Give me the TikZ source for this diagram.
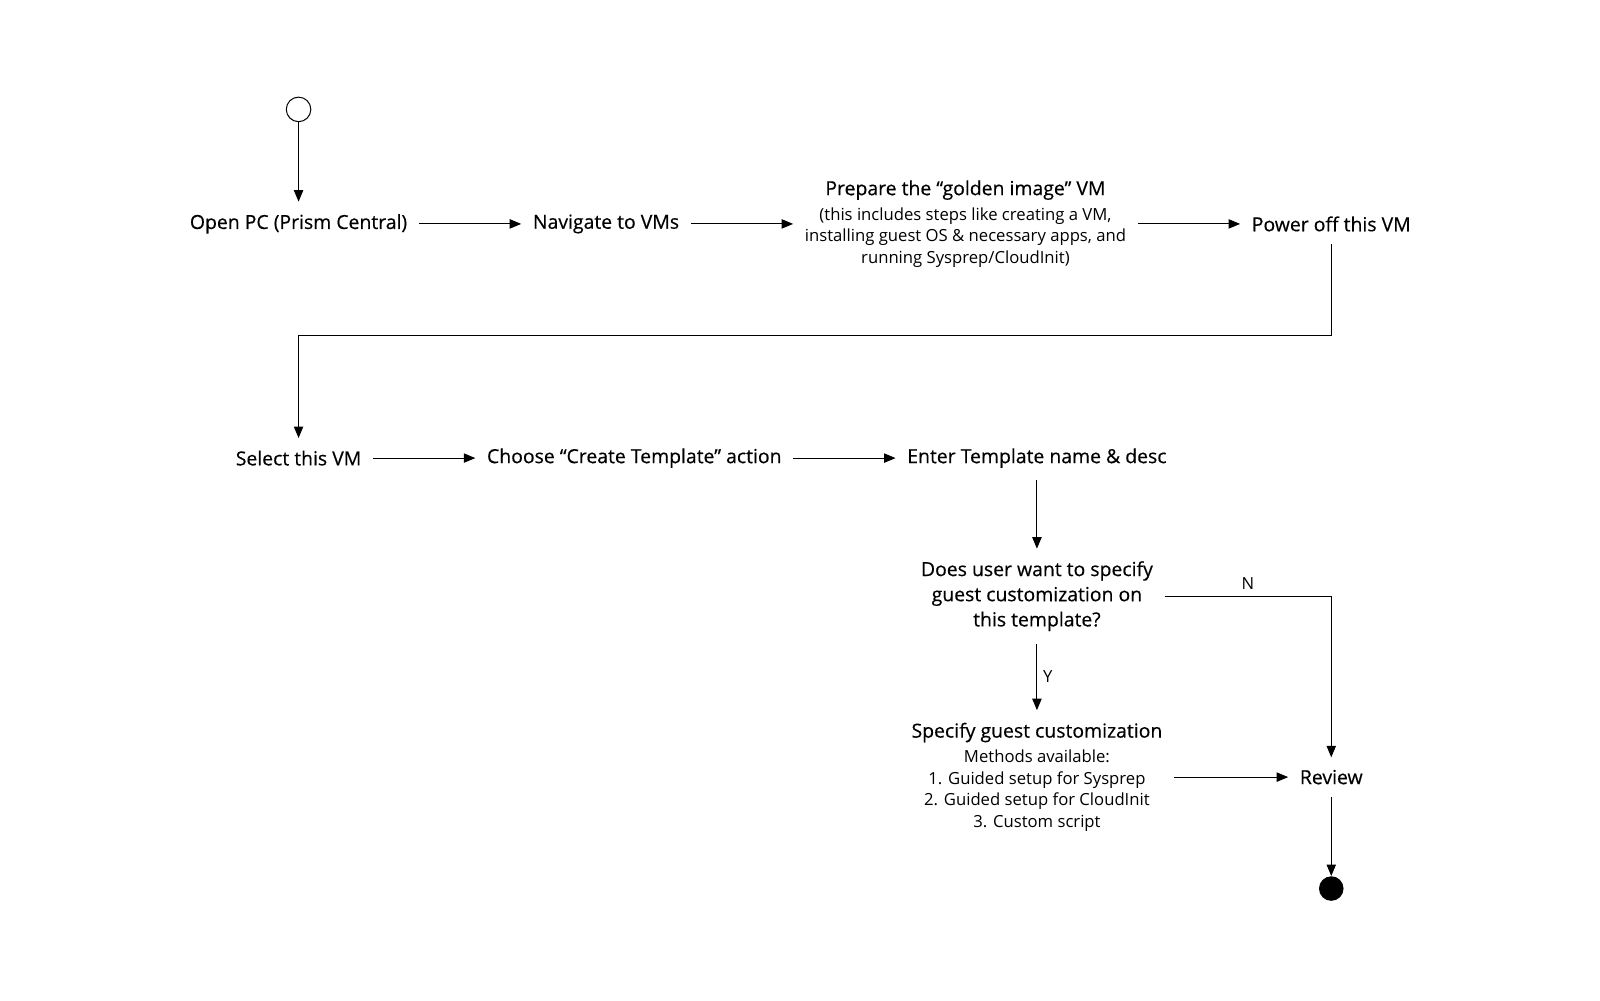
\documentclass[tikz,border=0pt]{standalone}
\usepackage{fontspec}
\setmainfont{Open Sans}
\newfontfamily\stepfont{Open Sans}[FakeBold=0.4]
\usetikzlibrary{arrows.meta, positioning}
\newcommand{\notefont}{\fontsize{11.6}{15}\selectfont}

\begin{document}
\begin{tikzpicture}[
          stepbox/.style={inner xsep=0.28cm, inner ysep=0.3cm, align=center, font=\stepfont\fontsize{13.5}{17.5}\selectfont},
          startdot/.style={circle, draw, line width=0.7pt, minimum size=0.6cm, inner sep=0pt},
          enddot/.style={circle, fill, minimum size=0.6cm, inner sep=0pt},
          arrow/.style={-{Triangle[length=8pt, width=6.5pt]}, line width=0.7pt},
          branch/.style={font=\notefont, inner sep=4pt},
          node distance=2.5cm
        ]
          \node (start) [startdot] {};
          \useasboundingbox (start.center) ++(-7.3,2.675) rectangle ++(39.12,-24.45);
          \node (open) [stepbox, on grid, below=2.8cm of start] {Open PC (Prism Central)};
          \node (nav) [stepbox, right=of open] {Navigate to VMs};
          \node (prep) [stepbox, right=of nav] {Prepare the “golden image” VM\\\rmfamily\notefont (this includes steps like creating a VM,\\[-2.5pt]\rmfamily\notefont installing guest OS \& necessary apps, and\\[-2.5pt]\rmfamily\notefont running Sysprep/CloudInit)};
          \node (power) [stepbox, right=of prep] {Power off this VM};

          \node (select) [stepbox, on grid, below=5.725cm of open] {Select this VM};
          \node (choose) [stepbox, right=of select] {Choose “Create Template” action};
          \node (enter) [stepbox, right=of choose] {Enter Template name \& desc};
          \node (ask) [stepbox, on grid, below=3.375cm of enter] {Does user want to specify\\guest customization on\\this template?};
          \node (custom) [stepbox, on grid, below=4.425cm of ask] {Specify guest customization\\\rmfamily\notefont Methods available:\\[-2.5pt]\rmfamily\notefont 1. Guided setup for Sysprep\\[-2.5pt]\rmfamily\notefont 2. Guided setup for CloudInit\\[-2.5pt]\rmfamily\notefont 3. Custom script};
          \node (review) [stepbox] at (power |- custom) {Review};
          \node (stop) [enddot, on grid, below=2.725cm of review] {};

          \draw [arrow] (start) -- (open);
          \draw [arrow] (open) -- (nav);
          \draw [arrow] (nav) -- (prep);
          \draw [arrow] (prep) -- (power);
          \draw [arrow] (power) -- ++(0,-2.725) -| (select);
          \draw [arrow] (select) -- (choose);
          \draw [arrow] (choose) -- (enter);
          \draw [arrow] (enter) -- (ask);
          \draw [arrow] (ask) -- node [branch, right] {Y} (custom);
          \draw [arrow] (ask) -| node [branch, pos=0.25, above] {N} (review);
          \draw [arrow] (custom) -- (review);
          \draw [arrow] (review) -- (stop);
        \end{tikzpicture}
\end{document}
